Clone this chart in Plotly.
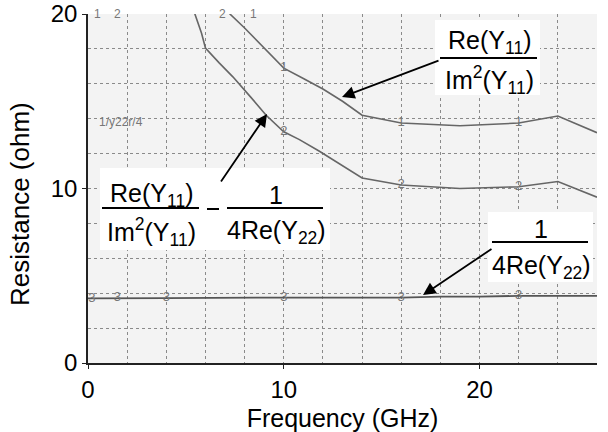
import plotly.graph_objects as go

# ---------------- data ----------------
freq_1 = [7.0, 7.25, 8.0, 8.8, 10.0, 11.0, 12.0, 13.0, 14.0, 16.0, 19.0, 22.0, 24.0, 26.0]
res_1 = [20.4, 20.0, 19.2, 18.3, 16.9, 16.3, 15.7, 15.0, 14.2, 13.75, 13.6, 13.75, 14.15, 13.2]

freq_2 = [5.4, 5.46, 5.8, 6.0, 6.7, 7.4, 8.3, 9.1, 10.0, 10.8, 11.8, 14.0, 16.0, 19.0, 22.0, 24.0, 26.0]
res_2 = [20.3, 20.0, 18.9, 18.05, 17.2, 16.4, 15.25, 14.2, 13.25, 12.8, 12.15, 10.6, 10.2, 10.0, 10.1, 10.4, 9.5]

freq_3 = [0.0, 2.0, 4.0, 10.0, 16.0, 18.0, 20.0, 22.0, 24.0, 26.0]
res_3 = [3.70, 3.72, 3.72, 3.75, 3.75, 3.80, 3.80, 3.85, 3.85, 3.85]

# trace-number labels printed along the scanned curves
lab1_x = [10.0, 16.0, 22.0]
lab1_y = [16.9, 13.75, 13.75]
lab2_x = [10.0, 16.0, 22.0]
lab2_y = [13.25, 10.2, 10.1]
lab3_x = [0.2, 1.5, 4.0, 10.0, 16.0, 22.0]
lab3_y = [3.70, 3.72, 3.72, 3.75, 3.75, 3.85]

x_ticks = [0, 10, 20]
y_ticks = [0, 10, 20]

# ---------------- layout geometry ----------------
W, H = 608, 432
L, R, T, B = 88, 11, 14, 69
PW, PH = W - L - R, H - T - B


def px(x):
    return (x - L) / PW


def py(y):
    return (H - B - y) / PH


FONT = "Liberation Sans, Arial, sans-serif"
CURVE = "#666666"
LABC = "#777777"

fig = go.Figure()
fig.add_trace(go.Scatter(x=freq_1, y=res_1, mode="lines",
                         line=dict(color=CURVE, width=1.6), showlegend=False))
fig.add_trace(go.Scatter(x=freq_2, y=res_2, mode="lines",
                         line=dict(color=CURVE, width=1.6), showlegend=False))
fig.add_trace(go.Scatter(x=freq_3, y=res_3, mode="lines",
                         line=dict(color="#555555", width=1.8), showlegend=False))

for lx, ly, t in [(lab1_x, lab1_y, "1"), (lab2_x, lab2_y, "2"), (lab3_x, lab3_y, "3")]:
    fig.add_trace(go.Scatter(x=lx, y=ly, mode="text", text=[t] * len(lx),
                             textfont=dict(family=FONT, size=13, color=LABC),
                             showlegend=False, hoverinfo="skip"))

shapes = []
annotations = []


def white_box(x0, y0, x1, y1):
    shapes.append(dict(type="rect", xref="paper", yref="paper",
                       x0=px(x0), x1=px(x1), y0=py(y1), y1=py(y0),
                       fillcolor="white", line=dict(width=0), layer="above"))


def hline(x0, x1, y, w=2):
    shapes.append(dict(type="line", xref="paper", yref="paper",
                       x0=px(x0), x1=px(x1), y0=py(y), y1=py(y),
                       line=dict(color="black", width=w), layer="above"))


def text(x, y, s, size=25):
    annotations.append(dict(xref="paper", yref="paper", x=px(x), y=py(y), text=s,
                            showarrow=False, xanchor="center", yanchor="middle",
                            font=dict(family=FONT, size=size, color="black")))


def arrow(tipx, tipy, tailx, taily):
    annotations.append(dict(xref="paper", yref="paper", x=px(tipx), y=py(tipy), text="",
                            showarrow=True, ax=tailx - tipx, ay=taily - tipy,
                            axref="pixel", ayref="pixel",
                            arrowhead=2, arrowsize=1.4, arrowwidth=1.8,
                            arrowcolor="black", standoff=0,
                            font=dict(family=FONT, size=12)))


# box 1: Re(Y11)/Im^2(Y11)
white_box(435, 20, 540, 95)
hline(440, 537, 58)
text(489, 42, "Re(Y<sub>11</sub>)")
text(489, 80, "Im<sup>2</sup>(Y<sub>11</sub>)")
arrow(342, 97, 440, 60)

# box 2: Re(Y11)/Im^2(Y11) - 1/(4Re(Y22))
white_box(100, 168, 330, 250)
hline(102, 199, 208)
text(151, 195, "Re(Y<sub>11</sub>)")
text(151, 232, "Im<sup>2</sup>(Y<sub>11</sub>)")
hline(207, 219, 209)
hline(227, 323, 208)
text(276, 195, "1")
text(276, 232, "4Re(Y<sub>22</sub>)")
arrow(267, 114, 220, 183)

# box 3: 1/(4Re(Y22))
white_box(488, 212, 593, 282)
hline(492, 588, 242)
text(541, 229, "1")
text(541, 267, "4Re(Y<sub>22</sub>)")
arrow(423, 295, 493, 248)

# scan remnants of the original legend
for sx, sy, s in [(97, 14, "1"), (117, 14, "2"), (222, 14, "2"), (253, 14, "1"),
                  (121, 122, "1/y22r/4")]:
    annotations.append(dict(xref="paper", yref="paper", x=px(sx), y=py(sy), text=s,
                            showarrow=False, xanchor="center", yanchor="middle",
                            font=dict(family=FONT, size=12, color=LABC)))

# y-axis title
annotations.append(dict(xref="paper", yref="paper", x=px(20), y=py(204),
                        text="Resistance (ohm)", textangle=-90, showarrow=False,
                        xanchor="center", yanchor="middle",
                        font=dict(family=FONT, size=26, color="black")))

grid = dict(showgrid=True, gridcolor="#8a8a8a", griddash="dot", gridwidth=1)

fig.update_layout(
    width=W, height=H,
    margin=dict(l=L, r=R, t=T, b=B, pad=0, autoexpand=False),
    paper_bgcolor="white", plot_bgcolor="#f3f3f3",
    font=dict(family=FONT, size=24, color="black"),
    shapes=shapes, annotations=annotations,
    xaxis=dict(range=[0, 26], tickvals=x_ticks, ticktext=[str(v) for v in x_ticks],
               ticks="outside", ticklen=4, tickcolor="#222", automargin=False,
               showline=True, linecolor="#222", linewidth=1.5, zeroline=False,
               minor=dict(dtick=2, tick0=0, **grid), **grid,
               title=dict(text="Frequency (GHz)", font=dict(size=25), standoff=8),
               tickfont=dict(size=24)),
    yaxis=dict(range=[0, 20], tickvals=y_ticks, ticktext=[str(v) for v in y_ticks],
               ticks="outside", ticklen=4, tickcolor="#222", automargin=False,
               showline=True, linecolor="#222", linewidth=1.5, zeroline=False,
               minor=dict(dtick=2, tick0=0, **grid), **grid,
               tickfont=dict(size=24)),
)

fig.write_html("out.html")
